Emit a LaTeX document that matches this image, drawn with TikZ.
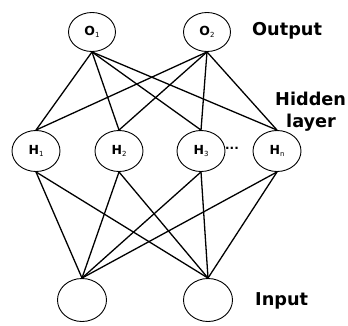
\documentclass[tikz,border=0pt]{standalone}
\usepackage{fontspec}
\setmainfont{DejaVu Sans}
\usetikzlibrary{shapes.geometric}
% bold letter with a small plain subscript
\newcommand{\unitname}[2]{\textbf{#1}\raisebox{-1.5pt}{\fontsize{7}{7}\selectfont #2}}
\begin{document}
\begin{tikzpicture}[x=1pt,y=-1pt,
  neuron/.style={ellipse,draw,line width=0.9pt,minimum width=48pt,minimum height=41pt,inner sep=0pt,font=\fontsize{12.5}{13}\selectfont},
  link/.style={line width=1.3pt},
  lbl/.style={font=\fontsize{17.7}{18}\selectfont\bfseries,anchor=base west,inner sep=0pt}]
\useasboundingbox (0,0) rectangle (348,325);
% output layer
\node[neuron,minimum width=47pt,minimum height=39pt] (o1) at (92,32) {\unitname{O}{1}};
\node[neuron,minimum width=47pt,minimum height=39pt] (o2) at (207,32) {\unitname{O}{2}};
% hidden layer
\node[neuron] (h1) at (36,151) {\unitname{H}{1}};
\node[neuron] (h2) at (119,151) {\unitname{H}{2}};
\node[neuron] (h3) at (201,151) {\unitname{H}{3}};
\node[neuron] (hn) at (277,151) {\unitname{H}{n}};
\node[font=\fontsize{12}{12}\selectfont\bfseries,anchor=base,inner sep=0pt] (dots) at (232,149.5) {...};
% input layer
\node[neuron,minimum width=49pt,minimum height=43pt] (i1) at (82,300) {};
\node[neuron,minimum width=49pt,minimum height=43pt] (i2) at (208,300) {};
% labels
\node[lbl] (lout) at (252,35) {Output};
\node[lbl] (lhid) at (275,105) {Hidden};
\node[lbl] (llay) at (286,127) {layer};
\node[lbl] (lin) at (255,305) {Input};
% connections
\foreach \o in {o1,o2}
  \foreach \h in {h1,h2,h3,hn}
    \draw[link] (\o.south) -- (\h.north);
\foreach \h in {h1,h2,h3,hn}
  \foreach \i in {i1,i2}
    \draw[link] (\h.south) -- (\i.north);
\end{tikzpicture}
\end{document}
